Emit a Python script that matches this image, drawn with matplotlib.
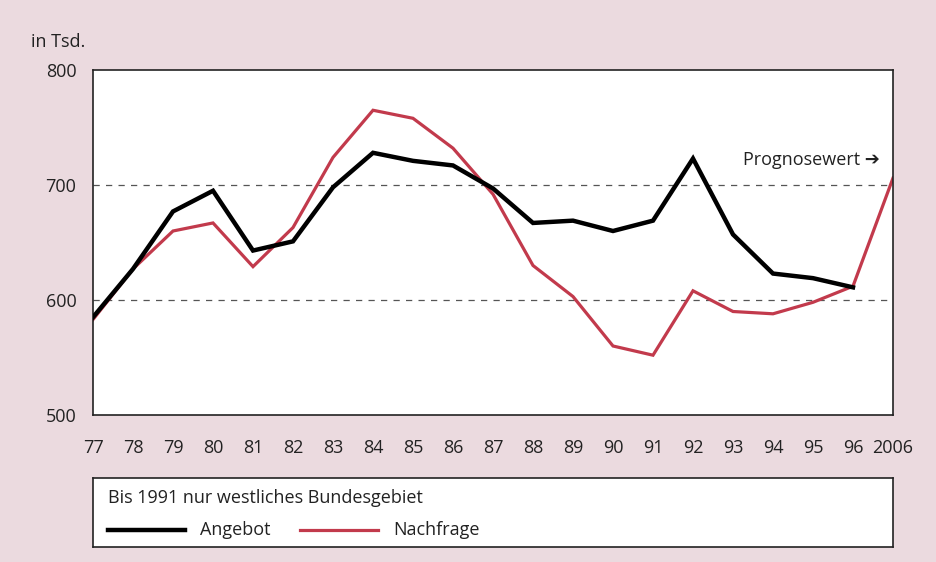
import matplotlib.pyplot as plt
import numpy as np

plt.rcParams['font.family'] = ['Open Sans', 'DejaVu Sans']

bg = '#ebdadf'
red = '#c23a4c'
fs = 13

jahre = ['77', '78', '79', '80', '81', '82', '83', '84', '85', '86', '87',
         '88', '89', '90', '91', '92', '93', '94', '95', '96', '2006']
angebot = [585, 627, 677, 695, 643, 651, 698, 728, 721, 717, 697,
           667, 669, 660, 669, 723, 657, 623, 619, 611]
nachfrage = [583, 627, 660, 667, 629, 663, 724, 765, 758, 732, 692,
             630, 603, 560, 552, 608, 590, 588, 598, 612, 706]

fig = plt.figure(figsize=(9.36, 5.62), dpi=100, facecolor=bg)
ax = fig.add_axes([93/936, 1-415/562, 800/936, 345/562])
ax.set_facecolor('white')

x = np.arange(len(jahre))
ax.axhline(600, color='#555555', lw=0.9, dashes=(5, 5))
ax.axhline(700, color='#555555', lw=0.9, dashes=(5, 5))
ax.plot(x[:len(angebot)], angebot, color='black', lw=3.2, solid_joinstyle='miter', zorder=3)
ax.plot(x, nachfrage, color=red, lw=2.3, solid_joinstyle='miter', zorder=2)

ax.set_xlim(0, len(jahre)-1)
ax.set_ylim(500, 800)
ax.set_yticks([500, 600, 700, 800])
ax.set_xticks(x)
ax.set_xticklabels(jahre)
ax.tick_params(length=0, labelsize=fs, colors='#222222', pad=17)
ax.tick_params(axis='y', pad=12)
for s in ax.spines.values():
    s.set_linewidth(1.2)
    s.set_color('#222222')

ax.text(19.68, 722, 'Prognosewert ➔', ha='right', va='center', fontsize=fs, color='#222222')
fig.text(31/936, 1-42/562, 'in Tsd.', ha='left', va='center', fontsize=fs, color='#222222')

# Legende
lg = fig.add_axes([93/936, 1-547/562, 800/936, 69/562])
lg.set_facecolor('white')
lg.set_xlim(0, 800)
lg.set_ylim(69, 0)
lg.set_xticks([])
lg.set_yticks([])
for s in lg.spines.values():
    s.set_linewidth(1.2)
    s.set_color('#222222')
lg.text(15, 20, 'Bis 1991 nur westliches Bundesgebiet', ha='left', va='center', fontsize=fs, color='#222222')
lg.plot([15, 92], [52, 52], color='black', lw=3.2)
lg.text(107, 52, 'Angebot', ha='left', va='center', fontsize=fs, color='#222222')
lg.plot([207, 285], [52, 52], color=red, lw=2.3)
lg.text(300, 52, 'Nachfrage', ha='left', va='center', fontsize=fs, color='#222222')

plt.savefig('out.png', dpi=100, facecolor=bg)
